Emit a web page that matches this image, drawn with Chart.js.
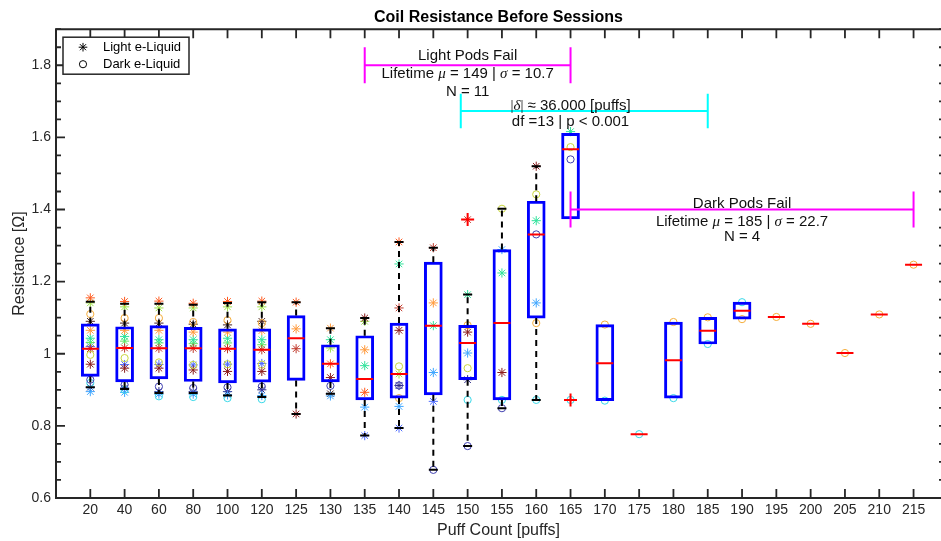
<!DOCTYPE html>
<html><head><meta charset="utf-8">
<script src="https://cdn.jsdelivr.net/npm/chart.js@4.4.1/dist/chart.umd.min.js"></script>
<style>
html,body{margin:0;padding:0;overflow:hidden;background:#fff;width:941px;height:541px}
#wrap{width:941px;height:541px;position:relative}
</style></head>
<body><div id="wrap"><canvas id="c" width="941" height="541"></canvas></div>
<script>
// ---------- data ----------
const categories = ['20','40','60','80','100','120','125','130','135','140','145','150','155','160','165','170','175','180','185','190','195','200','205','210','215'];

const boxQ1     = [0.937,0.922,0.930,0.923,0.919,0.921,0.926,0.922,0.872,0.877,0.886,0.928,0.872,1.099,1.374,0.870,0.777,0.877,1.027,1.096,1.102,1.083,1.002,1.109,1.247];
const boxMedian = [1.014,1.016,1.015,1.015,1.014,1.011,1.043,0.972,0.930,0.944,1.078,1.030,1.085,1.331,1.567,0.974,0.777,0.982,1.064,1.119,1.102,1.083,1.002,1.109,1.247];
const boxQ3     = [1.083,1.075,1.078,1.073,1.069,1.069,1.106,1.025,1.050,1.085,1.254,1.079,1.289,1.423,1.611,1.081,0.777,1.088,1.101,1.143,1.102,1.083,1.002,1.109,1.247];
const whiskerLow  = [0.907,0.902,0.891,0.891,0.884,0.880,0.833,0.889,0.773,0.794,0.678,0.744,0.849,0.872,null,null,null,null,null,null,null,null,null,null,null];
const whiskerHigh = [1.144,1.139,1.139,1.136,1.141,1.143,1.143,1.071,1.099,1.310,1.294,1.164,1.402,1.520,null,null,null,null,null,null,null,null,null,null,null];

const outlierIndex = [11, 14];
const outlierValue = [1.372, 0.872];

const N_ = null;
// light e-liquid pods (asterisks)
const lightPod1  = [0.971,0.960,0.960,0.955,0.951,0.951,0.833,0.934,1.099,1.065,N_,1.060,0.948,1.520,N_,N_,N_,N_,N_,N_,N_,N_,N_,N_,N_];
const lightPod2  = [1.014,1.016,1.015,1.015,1.014,1.011,1.014,N_,N_,1.127,1.294,1.372,N_,N_,N_,N_,N_,N_,N_,N_,N_,N_,N_,N_,N_];
const lightPod3  = [1.155,1.145,1.146,1.140,1.145,1.146,1.143,0.972,0.893,1.310,N_,N_,N_,N_,N_,N_,N_,N_,N_,N_,N_,N_,N_,N_,N_];
const lightPod4  = [1.065,1.065,1.065,1.060,1.060,1.064,1.069,1.071,1.011,N_,1.141,N_,N_,N_,N_,N_,N_,N_,N_,N_,N_,N_,N_,N_,N_];
const lightPod5  = [1.141,1.130,1.127,1.127,1.130,1.130,N_,1.016,1.090,0.944,N_,N_,N_,N_,N_,N_,N_,N_,N_,N_,N_,N_,N_,N_,N_];
const lightPod6  = [1.043,1.048,1.039,1.039,1.043,1.039,N_,1.039,0.967,1.249,1.078,1.164,1.224,1.369,1.616,N_,N_,N_,N_,N_,N_,N_,N_,N_,N_];
const lightPod7  = [1.031,1.035,1.030,1.028,1.030,1.025,N_,N_,N_,N_,N_,N_,N_,N_,N_,N_,N_,N_,N_,N_,N_,N_,N_,N_,N_];
const lightPod8  = [0.895,0.893,0.888,0.888,0.886,0.884,N_,0.883,0.852,0.854,0.948,1.002,1.289,1.141,N_,N_,N_,N_,N_,N_,N_,N_,N_,N_,N_];
const lightPod9  = [1.020,0.970,0.970,0.969,0.971,0.973,N_,N_,0.773,0.794,0.868,N_,N_,N_,N_,N_,N_,N_,N_,N_,N_,N_,N_,N_,N_];
const lightPod10 = [0.907,0.905,0.895,0.895,0.895,0.900,N_,N_,N_,0.912,N_,0.928,N_,N_,N_,N_,N_,N_,N_,N_,N_,N_,N_,N_,N_];
const lightPod11 = [1.090,1.085,1.085,1.082,1.080,1.090,N_,0.889,N_,N_,N_,N_,N_,N_,N_,N_,N_,N_,N_,N_,N_,N_,N_,N_,N_];
// dark e-liquid pods (circles)
const darkPod1 = [0.928,0.914,0.909,0.905,0.907,0.909,N_,0.911,N_,0.912,0.678,0.744,0.849,1.331,1.539,N_,N_,N_,N_,N_,N_,N_,N_,N_,N_];
const darkPod2 = [0.919,0.900,0.882,0.880,0.877,0.874,N_,N_,N_,N_,N_,0.872,0.872,0.872,0.872,0.870,0.777,0.877,1.027,1.143,N_,N_,N_,N_,N_];
const darkPod3 = [0.997,0.988,0.976,0.969,0.971,0.970,N_,N_,N_,0.965,N_,0.960,1.402,1.442,1.573,N_,N_,N_,N_,N_,N_,N_,N_,N_,N_];
const darkPod4 = [1.110,1.099,1.099,1.088,1.093,1.085,N_,N_,N_,0.877,N_,1.079,N_,1.085,N_,1.081,N_,1.088,1.101,1.096,1.102,1.083,1.002,1.109,1.247];

const lightPods = [lightPod1,lightPod2,lightPod3,lightPod4,lightPod5,lightPod6,lightPod7,lightPod8,lightPod9,lightPod10,lightPod11];
const darkPods = [darkPod1,darkPod2,darkPod3,darkPod4];
const lightColors = ['#8b1c1c','#c0392b','#ff5a1f','#ff9a3c','#9ee04a','#30e39b','#62e35e','#3ea6ff','#4d6bff','#2c2a86','#4a2424'];
const darkColors = ['#4040b0','#38d8e8','#c8d63c','#f5ad3a'];

const legendLabels = ['Light e-Liquid','Dark e-Liquid'];

// annotation bars (x in category index units, y in ohms)
const annotations = [
  {color:'#ff00ff', from:8, to:14, y:1.80, cap:0.05, cx:11, text:[
    {y:1.825, parts:[['Light Pods Fail']]},
    {y:1.775, parts:[['Lifetime '],['\u03bc','i'],[' = 149 | '],['\u03c3','i'],[' = 10.7']]},
    {y:1.725, parts:[['N = 11']]}]},
  {color:'#00ffff', from:10.8, to:18, y:1.673, cap:0.048, cx:14, text:[
    {y:1.688, parts:[['|','s'],['\u03b4','i'],['|','s'],[' \u2248 36.000 [puffs]']]},
    {y:1.643, parts:[['df =13 | p < 0.001']]}]},
  {color:'#ff00ff', from:14, to:24, y:1.40, cap:0.05, cx:19, text:[
    {y:1.417, parts:[['Dark Pods Fail']]},
    {y:1.366, parts:[['Lifetime '],['\u03bc','i'],[' = 185 | '],['\u03c3','i'],[' = 22.7']]},
    {y:1.323, parts:[['N = 4']]}]}
];

// ---------- build datasets ----------
const FONT = '"Liberation Sans", Arial, Helvetica, sans-serif';
const AX = '#262626';
const toPts = arr => arr.map((v,i)=> v==null ? null : {x:i, y:v}).filter(p=>p);

const whiskerData = [];
categories.forEach((c,i)=>{
  if (whiskerHigh[i]!=null){ whiskerData.push({x:i,y:boxQ3[i]},{x:i,y:whiskerHigh[i]},{x:i,y:null}); }
  if (whiskerLow[i]!=null){ whiskerData.push({x:i,y:boxQ1[i]},{x:i,y:whiskerLow[i]},{x:i,y:null}); }
});
const capData = [...toPts(whiskerHigh), ...toPts(whiskerLow)];

const datasets = [
  {type:'scatter', data: outlierIndex.map((k,j)=>({x:k,y:outlierValue[j]})), pointStyle:'cross', pointRadius:6.5, borderColor:'#ff0000', borderWidth:2},
  {type:'scatter', data: toPts(boxMedian), pointStyle:'line', pointRadius:8.5, borderColor:'#ff0000', borderWidth:2},
  {type:'scatter', data: capData, pointStyle:'line', pointRadius:4.5, borderColor:'#000000', borderWidth:2},
  {type:'line', data: whiskerData, showLine:true, spanGaps:false, borderColor:'#000000', borderWidth:2, borderDash:[6,5], pointRadius:0, fill:false},
  {type:'bar', data: categories.map((c,i)=>({x:i, y:[boxQ1[i], boxQ3[i]]})), barThickness:18, backgroundColor:'rgba(0,0,0,0)', borderColor:'#0000ff', borderWidth:2.3, borderSkipped:false},
];
darkPods.forEach((p,k)=> datasets.push({type:'scatter', data:toPts(p), pointStyle:'circle', pointRadius:3.6, borderWidth:1, borderColor:darkColors[k], backgroundColor:'rgba(0,0,0,0)'}));
lightPods.forEach((p,k)=> datasets.push({type:'scatter', data:toPts(p), pointStyle:'star', pointRadius:4.6, borderWidth:1, borderColor:lightColors[k], backgroundColor:lightColors[k]}));

// ---------- decoration plugin (frame, inward ticks, legend, annotations) ----------
function drawRich(ctx, parts, cx, cy, size){
  const fontOf = k => k==='i' ? `italic ${size}px "Liberation Serif", "DejaVu Serif", serif` : (k==='s' ? `${size}px "Liberation Serif", serif` : `${size}px ${FONT}`);
  let w = 0;
  parts.forEach(p=>{ ctx.font = fontOf(p[1]); w += ctx.measureText(p[0]).width; });
  let x = cx - w/2;
  ctx.textAlign='left'; ctx.textBaseline='middle';
  parts.forEach(p=>{ ctx.font = fontOf(p[1]); ctx.fillText(p[0], x, cy); x += ctx.measureText(p[0]).width; });
}

const deco = {
  id:'deco',
  afterDraw(chart){
    const {ctx, chartArea:a, scales:{x, y}} = chart;
    ctx.save();
    // annotations
    annotations.forEach(an=>{
      const x0 = x.getPixelForValue(an.from), x1 = x.getPixelForValue(an.to), yy = y.getPixelForValue(an.y);
      const ya = y.getPixelForValue(an.y+an.cap), yb = y.getPixelForValue(an.y-an.cap);
      ctx.strokeStyle = an.color; ctx.lineWidth = 2; ctx.setLineDash([]);
      ctx.beginPath();
      ctx.moveTo(x0,yy); ctx.lineTo(x1,yy);
      ctx.moveTo(x0,ya); ctx.lineTo(x0,yb);
      ctx.moveTo(x1,ya); ctx.lineTo(x1,yb);
      ctx.stroke();
      ctx.fillStyle = '#111';
      an.text.forEach(t=> drawRich(ctx, t.parts, x.getPixelForValue(an.cx), y.getPixelForValue(t.y), 15));
    });
    // frame: left, bottom, top (right edge lies just outside the view)
    ctx.strokeStyle = AX; ctx.lineWidth = 2; ctx.setLineDash([]);
    ctx.beginPath();
    ctx.moveTo(a.right+2, a.top); ctx.lineTo(a.left, a.top); ctx.lineTo(a.left, a.bottom); ctx.lineTo(a.right+2, a.bottom);
    ctx.stroke();
    // x ticks (bottom + top, inward)
    ctx.lineWidth = 1.8;
    ctx.beginPath();
    x.ticks.forEach(t=>{
      const px = x.getPixelForValue(t.value);
      ctx.moveTo(px, a.bottom); ctx.lineTo(px, a.bottom-9);
      ctx.moveTo(px, a.top); ctx.lineTo(px, a.top+9);
    });
    // y ticks (left full, right edge stubs), major longer
    y.ticks.forEach(t=>{
      const py = y.getPixelForValue(t.value);
      const major = (t.label && t.label !== '');
      ctx.moveTo(a.left, py); ctx.lineTo(a.left+(major?9:5), py);
      ctx.moveTo(a.right, py); ctx.lineTo(a.right-2, py);
    });
    ctx.stroke();
    // legend box
    const lx = a.left+7, ly = a.top+8, lw = 126, lh = 37;
    ctx.fillStyle = '#fff'; ctx.fillRect(lx, ly, lw, lh);
    ctx.strokeStyle = AX; ctx.lineWidth = 1.5; ctx.strokeRect(lx, ly, lw, lh);
    const styles = ['star','circle'];
    legendLabels.forEach((lab,k)=>{
      const ry = ly + 10 + k*17;
      ctx.strokeStyle = '#000'; ctx.fillStyle = 'rgba(0,0,0,0)'; ctx.lineWidth = 1;
      Chart.helpers.drawPoint(ctx, {pointStyle:styles[k], radius: k===0?4.3:3.6, borderWidth:1}, lx+20, ry);
      ctx.fillStyle = '#000'; ctx.font = `13px ${FONT}`; ctx.textAlign='left'; ctx.textBaseline='middle';
      ctx.fillText(lab, lx+40, ry+0.5);
    });
    ctx.restore();
  }
};

new Chart(document.getElementById('c'), {
  type:'scatter',
  data:{datasets},
  plugins:[deco],
  options:{
    responsive:false, animation:false, events:[],
    layout:{autoPadding:false, padding:{left:0, right:0, top:0, bottom:0}},
    plugins:{
      legend:{display:false}, tooltip:{enabled:false},
      title:{display:true, text:'Coil Resistance Before Sessions', fullSize:false, color:'#000',
             font:{family:FONT, size:16, weight:'bold'}, padding:{top:8, bottom:2}}
    },
    scales:{
      x:{type:'linear', min:-1, max:24.8, offset:false,
         grid:{display:false, drawTicks:false, tickLength:0}, border:{display:false},
         afterBuildTicks(s){ s.ticks = categories.map((c,i)=>({value:i})); },
         afterFit(s){ s.height = 43; s.paddingLeft = 0; s.paddingRight = 0; },
         ticks:{autoSkip:false, maxRotation:0, minRotation:0, padding:4, color:AX,
                font:{family:FONT, size:14},
                callback:(v)=> categories[Math.round(v)] ?? ''},
         title:{display:true, text:'Puff Count [puffs]', color:AX, font:{family:FONT, size:16}, padding:{top:0, bottom:1}}},
      y:{type:'linear', min:0.6, max:1.9, beginAtZero:false,
         grid:{display:false, drawTicks:false, tickLength:0}, border:{display:false},
         afterFit(s){ s.width = 56; },
         ticks:{stepSize:0.05, autoSkip:false, maxTicksLimit:100, padding:5, color:AX,
                font:{family:FONT, size:14},
                callback:(v)=>{ const r = v/0.2; return Math.abs(r-Math.round(r))<1e-6 ? String(Math.round(v*10)/10) : ''; }},
         title:{display:true, text:'Resistance [\u03a9]', color:AX, font:{family:FONT, size:16}, padding:{top:10, bottom:0}}}
    }
  }
});
</script>
</body></html>
